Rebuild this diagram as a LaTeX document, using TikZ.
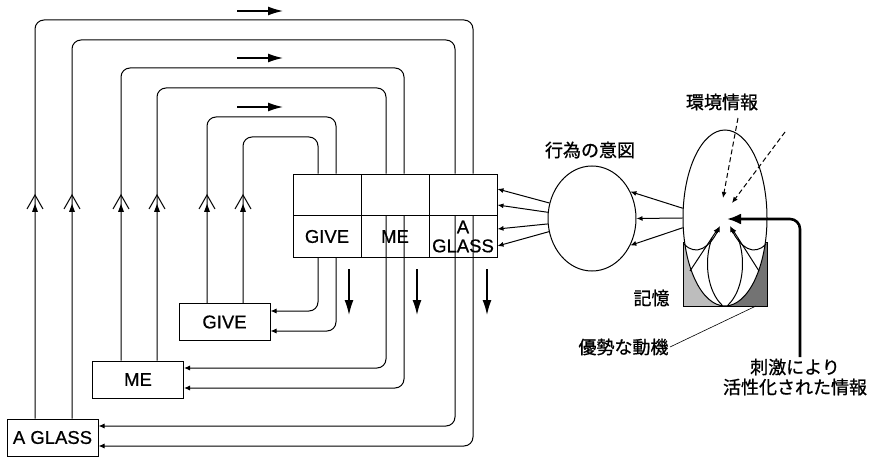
\documentclass[tikz,border=0pt]{standalone}
\usepackage{fontspec}
\setmainfont{Liberation Sans}[FakeBold=0.6]
\newfontfamily\jp{Noto Sans CJK JP}[FakeBold=0.9]
\usetikzlibrary{arrows.meta, shapes.geometric}

\definecolor{lightfill}{gray}{0.74}
\definecolor{darkfill}{gray}{0.45}

\begin{document}
\begin{tikzpicture}[x=1pt, y=-1pt, line width=1pt,
        font=\fontsize{18.5}{19}\selectfont,
        box/.style={draw, inner sep=0pt, minimum width=91pt, minimum height=37pt},
        cell/.style={draw, inner sep=0pt, minimum width=68pt, minimum height=41.5pt, align=center},
        loopline/.style={rounded corners=9pt},
        retline/.style={rounded corners=9pt, -{Latex[length=6pt, width=5pt]}},
        smallarr/.style={-{Latex[length=6pt, width=5pt]}},
        flowarr/.style={line width=1.4pt, -{Latex[length=15pt, width=9pt]}},
        jp/.style={font=\jp\fontsize{18}{20}\selectfont, inner sep=1pt},
        upmark/.pic={
            \fill (0,0) -- (-3,8) -- (3,8) -- cycle;
            \draw (-8,5) -- (0,-9) -- (8,5);
        }]
        \useasboundingbox (0,0) rectangle (881,457);

        \node[box] (ag) at (52.5,437.5) {A GLASS};
        \node[box] (me) at (138,379.5) {ME};
        \node[box] (give) at (224.5,322) {GIVE};

        \node[cell] (t1) at (327,195) {};
        \node[cell] (t2) at (395,195) {};
        \node[cell] (t3) at (463,195) {};
        \node[cell] (b1) at (327,236.5) {GIVE};
        \node[cell] (b2) at (395,236.5) {ME};
        \node[cell] (b3) at (463,236.5) {A\\GLASS};

        \draw[loopline] (ag.north -| 35,0) |- (473,20) -- (t3.north -| 473,0);
        \draw[loopline] (ag.north -| 72,0) |- (455,40) -- (t3.north -| 455,0);
        \draw[loopline] (me.north -| 121,0) |- (404,68) -- (t2.north -| 404,0);
        \draw[loopline] (me.north -| 157,0) |- (386,88) -- (t2.north -| 386,0);
        \draw[loopline] (give.north -| 207,0) |- (336,117) -- (t1.north -| 336,0);
        \draw[loopline] (give.north -| 243,0) |- (318,137) -- (t1.north -| 318,0);

        \pic at (35,204) {upmark};
        \pic at (72,204) {upmark};
        \pic at (121,204) {upmark};
        \pic at (157,204) {upmark};
        \pic at (207,204) {upmark};
        \pic at (243,204) {upmark};

        \draw[retline] (t3.south -| 473,0) |- (ag.east |- 0,446);
        \draw[retline] (t3.south -| 455,0) |- (ag.east |- 0,426);
        \draw[retline] (t2.south -| 404,0) |- (me.east |- 0,388);
        \draw[retline] (t2.south -| 386,0) |- (me.east |- 0,368);
        \draw[retline] (b1.south -| 336,0) |- (give.east |- 0,331);
        \draw[retline] (b1.south -| 318,0) |- (give.east |- 0,311);

        \draw[flowarr] (237,11) -- (283,11);
        \draw[flowarr] (237,58) -- (283,58);
        \draw[flowarr] (237,107) -- (283,107);
        \draw[flowarr] (349,269) -- (349,315);
        \draw[flowarr] (417,269) -- (417,315);
        \draw[flowarr] (487,269) -- (487,315);

        \node[draw, ellipse, inner sep=0pt, minimum width=88pt, minimum height=105pt] (intent) at (592,218.5) {};
        \node[jp] (intentlbl) at (590,150) {行為の意図};
        \draw[smallarr] (intent.160) -- (t3.east |- 0,189);
        \draw[smallarr] (intent.172) -- (t3.east |- 0,205);
        \draw[smallarr] (intent.187) -- (b3.east |- 0,229);
        \draw[smallarr] (intent.197) -- (b3.east |- 0,246);

        \fill[lightfill] (683,243) rectangle (725,306);
        \fill[darkfill] (725,243) rectangle (767,306);
        \draw (683,243) rectangle (767,306);
        \node[draw, fill=white, ellipse, inner sep=0pt, minimum width=84pt, minimum height=176pt] (mem) at (725,218) {};

        \draw[smallarr] (684,244) .. controls (696,257) and (710,247) .. (720,226);
        \draw[smallarr] (690,271) -- (719,227);
        \draw (712,238) .. controls (703,262) and (708,292) .. (722,305);
        \draw[smallarr] (766,244) .. controls (754,257) and (740,247) .. (730,226);
        \draw[smallarr] (759,271) -- (731,227);
        \draw (738,238) .. controls (747,262) and (742,292) .. (728,305);

        \draw[smallarr] (mem.167) -- (intent.35);
        \draw[smallarr] (mem.west) -- (intent.east);
        \draw[smallarr] (mem.193) -- (intent.-35);

        \node[jp] (envlbl) at (722,102) {環境情報};
        \coordinate (env1) at (738,118);
        \coordinate (env2) at (785,132);
        \coordinate (envtip1) at (723,198);
        \coordinate (envtip2) at (732,203);
        \draw[smallarr, dash pattern=on 5pt off 3pt] (env1) -- (envtip1);
        \draw[smallarr, dash pattern=on 5pt off 3pt] (env2) -- (envtip2);

        \node[jp, align=center] (stim) at (795,377) {刺激により\\活性化された情報};
        \coordinate (hit) at (727,219);
        \draw[line width=2.6pt, rounded corners=10pt, -{Latex[length=14pt, width=11pt]}] (stim.north -| 800,0) |- (hit);

        \node[jp, anchor=east] (memlbl) at (671,298) {記憶};
        \node[jp, anchor=east] (motive) at (670,347) {優勢な動機};
        \coordinate (dominant) at (756,306);
        \draw[line width=0.6pt] (motive.east) -- (dominant);
\end{tikzpicture}
\end{document}
